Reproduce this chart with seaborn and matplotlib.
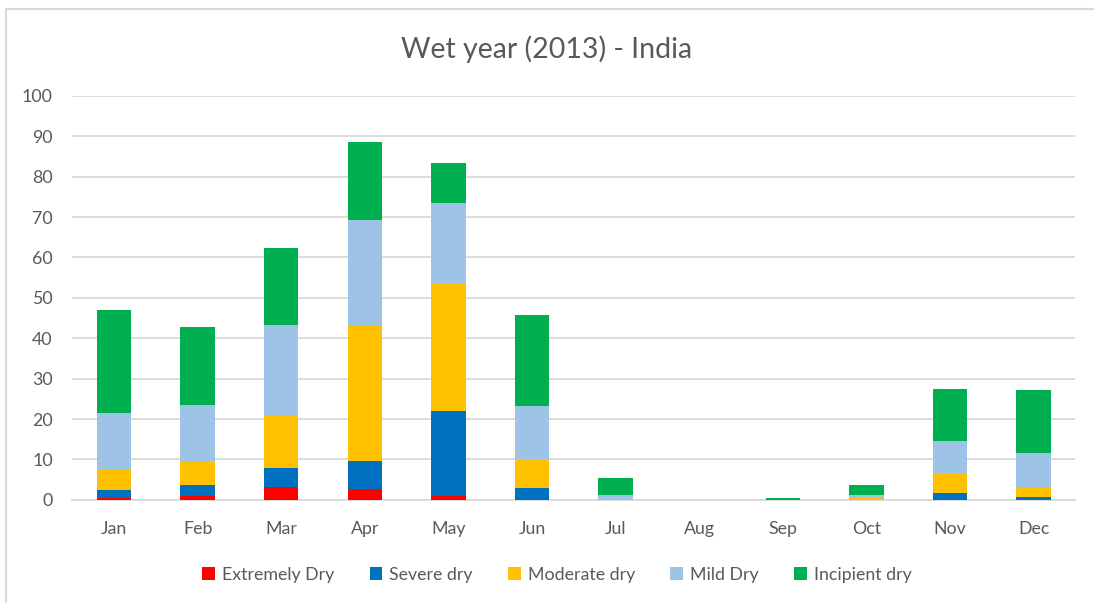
import matplotlib
matplotlib.use("Agg")
import matplotlib.pyplot as plt
import matplotlib.patches as mpatches
from matplotlib.lines import Line2D
import seaborn as sns
import pandas as pd
import numpy as np

months = ["Jan", "Feb", "Mar", "Apr", "May", "Jun",
          "Jul", "Aug", "Sep", "Oct", "Nov", "Dec"]

extremely_dry = [0.5, 1.0, 3.3, 2.6, 1.0, 0.0, 0.0, 0.0, 0.0, 0.0, 0.0, 0.0]
severe_dry    = [1.9, 2.8, 4.7, 7.0, 21.1, 2.9, 0.0, 0.0, 0.0, 0.0, 1.6, 0.6]
moderate_dry  = [5.3, 5.8, 13.1, 33.5, 31.4, 7.3, 0.0, 0.0, 0.0, 0.5, 4.7, 2.4]
mild_dry      = [13.7, 13.9, 22.3, 26.3, 20.1, 13.0, 1.2, 0.0, 0.0, 0.8, 8.2, 8.6]
incipient_dry = [25.6, 19.3, 19.0, 19.1, 9.7, 22.6, 4.2, 0.0, 0.5, 2.5, 12.9, 15.5]

series_names = ["Extremely Dry", "Severe dry", "Moderate dry", "Mild Dry", "Incipient dry"]
series_colors = ["#FF0000", "#0070C0", "#FFC000", "#9DC3E6", "#00B050"]

df = pd.DataFrame({
    "month": months,
    "Extremely Dry": extremely_dry,
    "Severe dry": severe_dry,
    "Moderate dry": moderate_dry,
    "Mild Dry": mild_dry,
    "Incipient dry": incipient_dry,
})

sns.set_theme(style="white")
plt.rcParams["font.family"] = ["Lato", "DejaVu Sans"]

text_color = "#595959"
grid_color = "#D9D9D9"

fig = plt.figure(figsize=(10.94, 6.03), dpi=100)
ax = fig.add_axes([0.066, 0.171, 0.917, 0.670])

# stacked bars: each series sits on the running total of the ones below it
bottom = np.zeros(len(months))
for name, color in zip(series_names, series_colors):
    sns.barplot(data=df, x="month", y=name, order=months, color=color,
                bottom=bottom, width=0.41, linewidth=0, saturation=1,
                ax=ax, zorder=3)
    bottom = bottom + df[name].to_numpy()

ax.set_ylim(0, 100)
ax.set_xlim(-0.5, len(months) - 0.5)
ax.set_yticks(np.arange(0, 101, 10))
ax.yaxis.grid(True, color=grid_color, linewidth=1.3, zorder=0)
ax.set_axisbelow(True)
ax.set_xlabel("")
ax.set_ylabel("")
for side in ["top", "right", "left"]:
    ax.spines[side].set_visible(False)
ax.spines["bottom"].set_color(grid_color)
ax.spines["bottom"].set_linewidth(1.3)
ax.tick_params(axis="both", length=0, labelsize=12.8, colors=text_color)
ax.tick_params(axis="y", pad=14)
ax.tick_params(axis="x", pad=15)

fig.text(0.5, 0.918, "Wet year (2013) - India", ha="center", va="center",
         fontsize=20.5, color=text_color)

handles = [mpatches.Patch(facecolor=c, edgecolor="none", label=n)
           for n, c in zip(series_names, series_colors)]
fig.legend(handles=handles, loc="center", bbox_to_anchor=(0.509, 0.047),
           ncol=5, frameon=False, fontsize=12.8, labelcolor=text_color,
           handlelength=0.7, handleheight=0.7, handletextpad=0.4,
           columnspacing=2.0)

# chart-area frame
fig.add_artist(Line2D([6 / 1094, 6 / 1094], [0, 1 - 9 / 603],
                      transform=fig.transFigure, color=grid_color, linewidth=1.5))
fig.add_artist(Line2D([6 / 1094, 1], [1 - 9 / 603, 1 - 9 / 603],
                      transform=fig.transFigure, color=grid_color, linewidth=1.5))

fig.savefig("out.png", dpi=100, facecolor="white")
